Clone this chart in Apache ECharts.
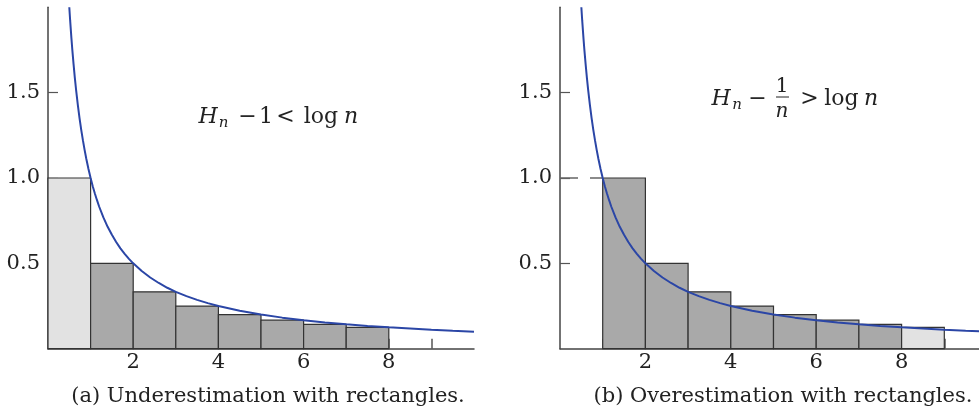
<!DOCTYPE html>
<html>
<head>
<meta charset="utf-8">
<script src="https://cdn.jsdelivr.net/npm/echarts@6.0.0/dist/echarts.min.js"></script>
<style>
  html, body { margin: 0; padding: 0; background: #fff; }
  #chart { width: 979px; height: 414px; }
</style>
</head>
<body>
<div id="chart"></div>
<script>
// 矩形: 左边起点、高度 (宽度都是 1)
var leftStart = [0, 1, 2, 3, 4, 5, 6, 7];
var rightStart = [1, 2, 3, 4, 5, 6, 7, 8];
var barHeight = [1.0, 0.5, 0.333, 0.25, 0.2, 0.167, 0.143, 0.125];

// 曲线 y = 1/x 上读出的点
var curveX = [0.5, 0.52, 0.55, 0.57, 0.6, 0.63, 0.66, 0.7, 0.74, 0.78, 0.82, 0.86, 0.9, 0.95, 1,
   1.05, 1.1, 1.15, 1.2, 1.3, 1.4, 1.5, 1.6, 1.7, 1.8, 1.9, 2, 2.2, 2.4, 2.6, 2.8, 3,
   3.25, 3.5, 3.75, 4, 4.5, 5, 5.5, 6, 6.5, 7, 7.5, 8, 8.5, 9, 9.5, 10];
var curveY = [2.0, 1.923, 1.818, 1.754, 1.667, 1.587, 1.515, 1.429, 1.351, 1.282, 1.22, 1.163, 1.111, 1.053, 1.0,
   0.952, 0.909, 0.87, 0.833, 0.769, 0.714, 0.667, 0.625, 0.588, 0.556, 0.526, 0.5, 0.455, 0.417, 0.385, 0.357, 0.333,
   0.308, 0.286, 0.267, 0.25, 0.222, 0.2, 0.182, 0.167, 0.154, 0.143, 0.133, 0.125, 0.118, 0.111, 0.105, 0.1];

// 坐标轴刻度
var xTicks = [1, 2, 3, 4, 5, 6, 7, 8, 9];
var xLabels = [2, 4, 6, 8];
var yLabels = [0.5, 1.0, 1.5];

var captions = ['(a) Underestimation with rectangles.', '(b) Overestimation with rectangles.'];

var serif = 'DejaVu Serif';
var darkFill = '#a9a9a9';
var lightFill = '#e2e2e2';
var blue = '#2b46a6';

var chart = echarts.init(document.getElementById('chart'));

function rectData(starts, lightIndex) {
   return starts.map(function (s, i) {
      return {
         value: [s, s + 1, barHeight[i]],
         itemStyle: { color: i === lightIndex ? lightFill : darkFill }
      };
   });
}

function renderRect(params, api) {
   var p0 = api.coord([api.value(0), api.value(2)]);
   var p1 = api.coord([api.value(1), 0]);
   return {
      type: 'rect',
      shape: { x: p0[0], y: p0[1], width: p1[0] - p0[0], height: p1[1] - p0[1] },
      style: { fill: api.visual('color'), stroke: '#333', lineWidth: 1.2 }
   };
}

var curveData = curveX.map(function (x, i) { return [x, curveY[i]]; });

function xAxisOpt(idx) {
   return {
      gridIndex: idx, type: 'value', min: 0, max: 10, interval: 1,
      splitLine: { show: false },
      axisLine: { lineStyle: { color: '#444', width: 1.5 } },
      axisTick: { inside: true, length: 10, customValues: xTicks, lineStyle: { color: '#555', width: 1.5 } },
      axisLabel: { customValues: xLabels, margin: 3, fontFamily: serif, fontSize: 21, color: '#222' }
   };
}

function yAxisOpt(idx) {
   return {
      gridIndex: idx, type: 'value', min: 0, max: 2, interval: 0.5,
      splitLine: { show: false },
      axisLine: { show: true, lineStyle: { color: '#444', width: 1.5 } },
      axisTick: { show: true, inside: true, length: 10, customValues: yLabels, lineStyle: { color: '#555', width: 1.2 } },
      axisLabel: {
         customValues: yLabels, margin: 8, fontFamily: serif, fontSize: 21, color: '#222',
         formatter: function (v) { return v.toFixed(1); }
      }
   };
}

var txt = function (x, y, s, size, italic) {
   return {
      type: 'text', x: x, y: y, z: 100,
      style: {
         text: s, fill: '#222',
         font: (italic ? 'italic ' : '') + size + 'px "' + serif + '"',
         align: 'center', verticalAlign: 'middle'
      }
   };
};

var option = {
   animation: false,
   grid: [
      { left: 48, top: 7.3, width: 426, height: 341.4, containLabel: false, outerBoundsMode: 'none' },
      { left: 560, top: 7.3, width: 427, height: 341.4, containLabel: false, outerBoundsMode: 'none' }
   ],
   xAxis: [xAxisOpt(0), xAxisOpt(1)],
   yAxis: [yAxisOpt(0), yAxisOpt(1)],
   series: [
      {
         type: 'custom', xAxisIndex: 0, yAxisIndex: 0, renderItem: renderRect,
         encode: { x: [0, 1], y: 2 }, data: rectData(leftStart, 0)
      },
      {
         type: 'line', xAxisIndex: 0, yAxisIndex: 0, data: curveData, showSymbol: false,
         lineStyle: { color: blue, width: 2 }
      },
      {
         type: 'custom', xAxisIndex: 1, yAxisIndex: 1, renderItem: renderRect,
         encode: { x: [0, 1], y: 2 }, data: rectData(rightStart, 7)
      },
      {
         // 虚线 y = 1
         type: 'line', xAxisIndex: 1, yAxisIndex: 1, data: [[0, 1], [1, 1]], showSymbol: false,
         lineStyle: { color: '#666', width: 1.3, type: [18, 12] }
      },
      {
         type: 'line', xAxisIndex: 1, yAxisIndex: 1, data: curveData, showSymbol: false,
         lineStyle: { color: blue, width: 2 }
      }
   ],
   graphic: [
      // 左图公式 H_n - 1 < log n
      txt(208, 117, 'H', 22, true),
      txt(223.5, 123, 'n', 15, true),
      txt(247.5, 117, '−', 22, false),
      txt(266, 117, '1', 22, false),
      txt(285.5, 117, '<', 22, false),
      txt(321, 117, 'log', 22, false),
      txt(351, 117, 'n', 22, true),
      // 右图公式 H_n - 1/n > log n
      txt(721, 99, 'H', 22, true),
      txt(737, 105, 'n', 15, true),
      txt(757.5, 99, '−', 22, false),
      txt(782, 87, '1', 20, false),
      { type: 'line', z: 100, shape: { x1: 776, y1: 97, x2: 789, y2: 97 }, style: { stroke: '#222', lineWidth: 1 } },
      txt(782, 112, 'n', 20, true),
      txt(809.5, 99, '>', 22, false),
      txt(841.5, 99, 'log', 22, false),
      txt(871, 99, 'n', 22, true),
      // 图注
      txt(268, 397, captions[0], 21, false),
      txt(783, 397, captions[1], 21, false)
   ]
};

chart.setOption(option);
</script>
</body>
</html>
